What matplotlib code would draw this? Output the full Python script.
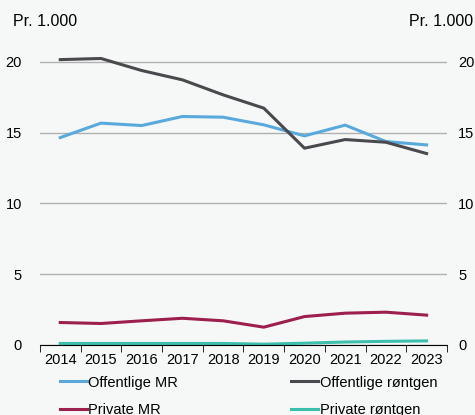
import matplotlib.pyplot as plt
import numpy as np

plt.rcParams['font.family'] = ['Liberation Sans', 'DejaVu Sans']

# Data (pr. 1.000 innbyggere)
aar = ["2014", "2015", "2016", "2017", "2018", "2019", "2020", "2021", "2022", "2023"]
offentlige_mr = [14.65, 15.67, 15.5, 16.14, 16.09, 15.55, 14.77, 15.53, 14.37, 14.13]
offentlige_rontgen = [20.16, 20.24, 19.39, 18.73, 17.67, 16.73, 13.9, 14.51, 14.32, 13.52]
private_mr = [1.58, 1.51, 1.7, 1.88, 1.7, 1.25, 2.0, 2.24, 2.31, 2.1]
private_rontgen = [0.1, 0.1, 0.1, 0.1, 0.1, 0.05, 0.12, 0.2, 0.25, 0.28]
y_ticks = [0, 5, 10, 15, 20]

BG = "#f6f8f8"
fig = plt.figure(figsize=(4.75, 4.15), dpi=100, facecolor=BG)
ax = fig.add_axes([0.084, 0.169, 0.857, 0.716])
ax.set_facecolor(BG)

x = np.arange(len(aar))
l1, = ax.plot(x, offentlige_mr, color="#5aa9dd", lw=2.2, label="Offentlige MR")
l2, = ax.plot(x, offentlige_rontgen, color="#4a4a4e", lw=2.2, label="Offentlige røntgen")
l3, = ax.plot(x, private_mr, color="#9c1f4d", lw=2.2, label="Private MR")
l4, = ax.plot(x, private_rontgen, color="#3dbfae", lw=2.2, label="Private røntgen")

ax.set_xlim(-0.5, len(aar) - 0.5)
ax.set_ylim(0, 21)
ax.set_yticks(y_ticks)
ax.set_xticks(x)
ax.set_xticklabels(aar)
ax.set_xticks(np.arange(-0.5, len(aar), 1), minor=True)
ax.tick_params(axis="x", which="major", length=0, pad=6, labelsize=10.5)
ax.tick_params(axis="x", which="minor", length=5, direction="out", color="black")
ax.tick_params(axis="y", length=0, labelsize=10.5, pad=13)
ax.grid(axis="y", color="#b0b0b0", lw=1)
ax.set_axisbelow(True)
for s in ["top", "left", "right"]:
    ax.spines[s].set_visible(False)
ax.spines["bottom"].set_color("black")

# hoyre akse med samme skala
ax2 = ax.twinx()
ax2.set_ylim(ax.get_ylim())
ax2.set_yticks(y_ticks)
ax2.tick_params(axis="y", length=0, labelsize=10.5, pad=8)
for s in ax2.spines.values():
    s.set_visible(False)

fig.text(0.027, 0.948, "Pr. 1.000", fontsize=11.5, ha="left", va="center")
fig.text(0.997, 0.948, "Pr. 1.000", fontsize=11.5, ha="right", va="center")

# to legender, en per kolonne
leg_kw = dict(loc="upper left", frameon=False, fontsize=10.5, handlelength=1.85,
              handletextpad=0.1, labelspacing=0.9, borderpad=0, borderaxespad=0)
leg1 = fig.legend(handles=[l1, l3], bbox_to_anchor=(0.126, 0.095), **leg_kw)
leg2 = fig.legend(handles=[l2, l4], bbox_to_anchor=(0.613, 0.095), **leg_kw)

fig.savefig("out.png", dpi=100, facecolor=BG)
